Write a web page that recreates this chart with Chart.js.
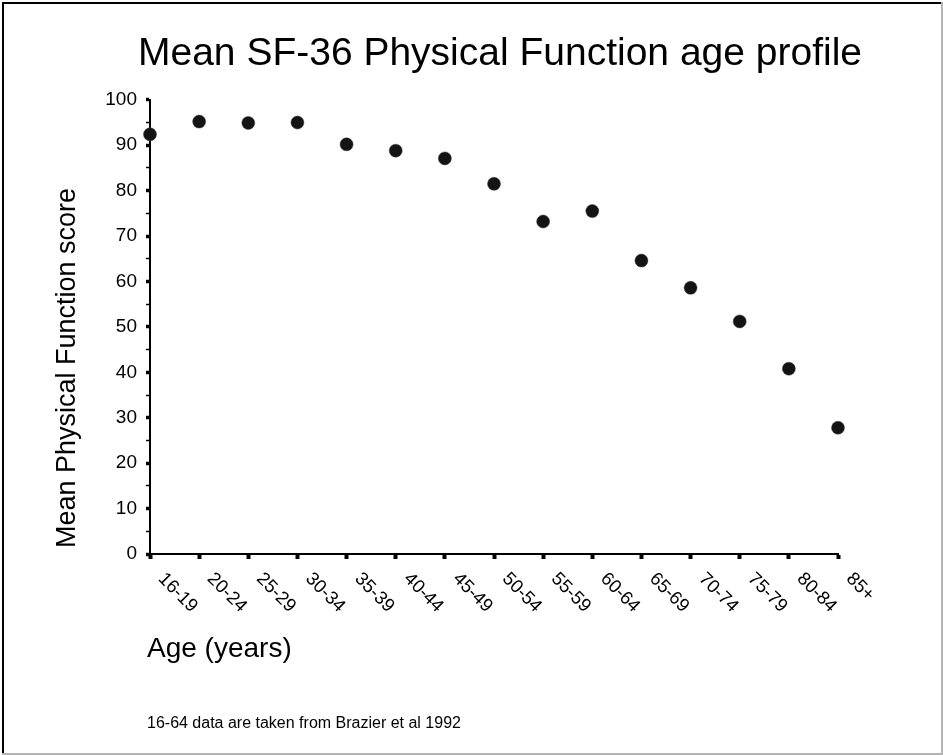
<!DOCTYPE html>
<html>
<head>
<meta charset="utf-8">
<script src="https://cdn.jsdelivr.net/npm/chart.js@4.4.1/dist/chart.umd.min.js"></script>
<style>
  html, body { margin: 0; padding: 0; background: #fff; }
  canvas { display: block; }
</style>
</head>
<body>
<canvas id="chartPF" width="943" height="755"></canvas>
<script>
// groupes d'age (axe x)
const ageGroups = ["16-19", "20-24", "25-29", "30-34", "35-39", "40-44", "45-49", "50-54",
    "55-59", "60-64", "65-69", "70-74", "75-79", "80-84", "85+"]

// score moyen de fonction physique par groupe
const meanScores = [92.4, 95.2, 94.9, 95.0, 90.2, 88.8, 87.1, 81.5,
    73.2, 75.5, 64.6, 58.6, 51.2, 40.8, 27.8]

// axe y : bornes et pas (graduation mineure tous les 5, label tous les 10)
const yMin = 0
const yMax = 100
const yStep = 5

// textes
const chartTitle = "Mean SF-36 Physical Function age profile"
const yTitle = "Mean Physical Function score"
const xTitle = "Age (years)"
const footNote = "16-64 data are taken from Brazier et al 1992"

const fontFamily = "'Liberation Sans', Arial, Helvetica, sans-serif"
Chart.defaults.font.family = fontFamily
Chart.defaults.color = "#000"

//plugin pour les textes que chart.js ne place pas comme on veut (labels x penchés, titres d'axes, cadre)
const extraText = {
    id: "extraText",
    afterDraw(chart) {
        const ctx = chart.ctx
        const xScale = chart.scales.x
        const area = chart.chartArea
        ctx.save()
        ctx.fillStyle = "#000"

        //labels de l'axe x, tournés de 45 degrés vers le bas
        ctx.font = "18.5px " + fontFamily
        ctx.textAlign = "left"
        ctx.textBaseline = "middle"
        xScale.ticks.forEach((tick, i) => {
            const px = xScale.getPixelForTick(i)
            ctx.save()
            ctx.translate(px + 11, area.bottom + 22)
            ctx.rotate(Math.PI / 4)
            ctx.fillText(xScale.getLabelForValue(tick.value), 0, 0)
            ctx.restore()
        })

        //titre de l'axe y
        ctx.save()
        ctx.font = "27px " + fontFamily
        ctx.textAlign = "center"
        ctx.translate(68, 368)
        ctx.rotate(-Math.PI / 2)
        ctx.fillText(yTitle, 0, 0)
        ctx.restore()

        //titre de l'axe x et note
        ctx.textAlign = "left"
        ctx.font = "28px " + fontFamily
        ctx.fillText(xTitle, area.left - 3, 649)
        ctx.font = "16px " + fontFamily
        ctx.fillText(footNote, area.left - 3, 724)

        //cadre
        ctx.fillStyle = "#000"
        ctx.fillRect(2, 2, 940, 2)
        ctx.fillRect(2, 2, 2, 752)
        ctx.fillStyle = "#b4b4b4"
        ctx.fillRect(941, 2, 2, 753)
        ctx.fillRect(2, 753, 941, 2)
        ctx.restore()
    }
}

let configPF = {
    type: "line",
    data: {
        labels: ageGroups,
        datasets: [
        {
            label: "Mean score",
            data: meanScores,
            showLine: false,
            pointStyle: "circle",
            pointRadius: 6.5,
            pointBackgroundColor: "#141414",
            pointBorderColor: "#3a3a3a",
            pointBorderWidth: 0.5,
            clip: false,
        },
        ],
    },
    options: {
        responsive: false,
        animation: false,
        //padding gauche pour centrer le titre vers x=500 comme sur l'original
        layout: { padding: { left: 57, right: 0, top: 0, bottom: 0 } },
        plugins: {
            legend: { display: false },
            tooltip: { enabled: false },
            title: {
                display: true,
                text: chartTitle,
                color: "#000",
                font: { size: 39, weight: "normal" },
                padding: { top: 31, bottom: 22 },
            },
        },
        scales: {
            x: {
                type: "category",
                offset: false,
                grid: {
                    offset: false,
                    drawOnChartArea: false,
                    drawTicks: true,
                    tickLength: 5,
                    tickWidth: 4,
                    tickColor: "#000",
                },
                border: { color: "#000", width: 2 },
                ticks: { display: false },
                afterFit: (scale) => {
                    scale.height = 201
                    scale.paddingRight = 105
                },
            },
            y: {
                min: yMin,
                max: yMax,
                grid: {
                    drawOnChartArea: false,
                    drawTicks: true,
                    tickLength: 4,
                    tickWidth: (c) => (c.tick && c.tick.value % 10 === 0 ? 3.5 : 1.5),
                    tickColor: "#000",
                },
                border: { color: "#000", width: 2 },
                ticks: {
                    stepSize: yStep,
                    autoSkip: false,
                    color: "#000",
                    padding: 9,
                    font: { size: 19 },
                    callback: (v) => (v % 10 === 0 ? v : ""),
                },
                afterFit: (scale) => { scale.width = 93 },
            },
        },
    },
    plugins: [extraText],
}

var chartPF = new Chart(document.getElementById("chartPF"), configPF)
</script>
</body>
</html>
